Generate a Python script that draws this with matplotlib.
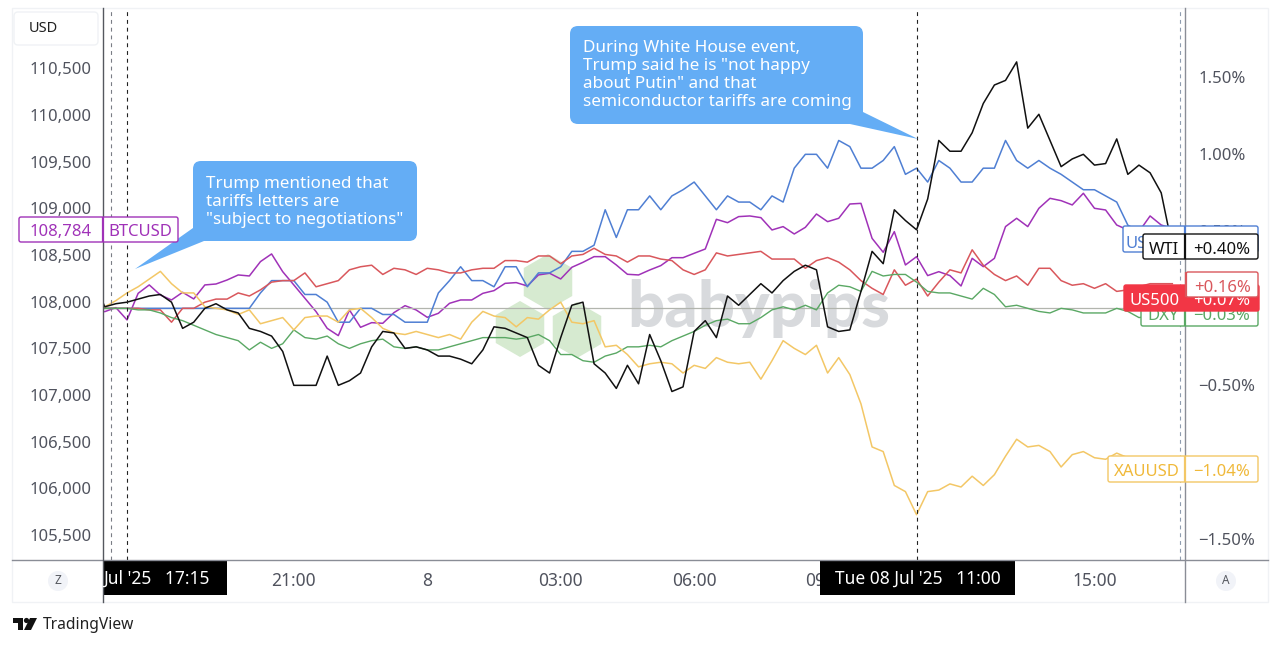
import numpy as np
import matplotlib
matplotlib.use("Agg")
import matplotlib.pyplot as plt
from matplotlib.patches import FancyBboxPatch, Polygon, Rectangle, RegularPolygon, Circle

plt.rcParams['font.family'] = ['Noto Sans', 'DejaVu Sans']

W, H = 1280, 647

# 15 minute bars, bar 0 is Jul 7 17:15
bars = np.arange(-3, 95)

btcusd = [107910, 107893, 107936, 107804, 108089, 108179, 108071, 108018, 108100, 108029,
          108179, 108189, 108232, 108286, 108275, 108429, 108511, 108321, 108179, 108036,
          107893, 107714, 107636, 107911, 107725, 107775, 107768, 107882, 107957, 107911,
          107832, 107875, 107982, 108018, 108018, 108089, 108118, 108196, 108204, 108168,
          108286, 108304, 108243, 108368, 108421, 108482, 108482, 108393, 108293, 108286,
          108339, 108386, 108471, 108471, 108518, 108564, 108882, 108846, 108911, 108918,
          108900, 108768, 108804, 108725, 108796, 108939, 108857, 108893, 109046, 109053,
          108678, 108529, 108750, 108393, 108482, 108279, 108321, 108279, 108168, 108464,
          108375, 108464, 108804, 108893, 108804, 109000, 109107, 109082, 109036, 109161,
          109000, 108982, 108821, 108768, 108750, 108918, 108821, 108784]

wti = [0.18, 0.01, 0.03, 0.04, 0.06, 0.08, 0.09, 0.04, -0.13, -0.09,
       0.00, 0.03, -0.01, -0.03, -0.13, -0.15, -0.18, -0.28, -0.50, -0.50,
       -0.50, -0.31, -0.50, -0.47, -0.42, -0.25, -0.15, -0.16, -0.26, -0.25,
       -0.27, -0.31, -0.31, -0.33, -0.36, -0.27, -0.12, -0.13, -0.16, -0.19,
       -0.37, -0.42, -0.19, 0.02, 0.04, -0.36, -0.42, -0.52, -0.37, -0.49,
       -0.17, -0.34, -0.54, -0.51, -0.15, -0.08, -0.19, 0.08, 0.02, 0.09,
       0.16, 0.10, 0.18, 0.24, 0.28, 0.25, -0.12, -0.15, -0.14, 0.11,
       0.37, 0.29, 0.64, 0.57, 0.51, 0.71, 1.09, 1.02, 1.02, 1.14,
       1.33, 1.45, 1.48, 1.60, 1.17, 1.26, 1.09, 0.92, 0.97, 1.00,
       0.93, 0.94, 1.10, 0.87, 0.93, 0.88, 0.75, 0.40]

usdjpy = [0.00, 0.00, 0.00, 0.00, 0.00, 0.00, 0.00, 0.00, 0.00, 0.00,
          0.00, 0.00, 0.00, 0.00, 0.00, 0.10, 0.18, 0.18, 0.18, 0.09,
          0.09, 0.04, -0.09, -0.09, 0.00, 0.00, -0.04, -0.04, -0.09, -0.09,
          -0.09, 0.10, 0.18, 0.27, 0.18, 0.18, 0.14, 0.27, 0.27, 0.14,
          0.23, 0.23, 0.27, 0.37, 0.37, 0.41, 0.64, 0.46, 0.64, 0.64,
          0.73, 0.64, 0.73, 0.77, 0.82, 0.73, 0.64, 0.73, 0.69, 0.69,
          0.64, 0.73, 0.69, 0.91, 1.00, 1.00, 0.91, 1.09, 1.05, 0.91,
          0.91, 0.96, 1.05, 0.87, 0.91, 0.82, 0.96, 0.91, 0.82, 0.82,
          0.91, 0.91, 1.09, 0.96, 0.91, 0.96, 0.91, 0.87, 0.82, 0.77,
          0.77, 0.73, 0.69, 0.54, 0.50, 0.48, 0.45, 0.45]

red_series = [0.00, 0.00, 0.00, 0.00, 0.00, -0.01, -0.01, -0.09, 0.00, 0.00,
              0.04, 0.06, 0.06, 0.10, 0.08, 0.12, 0.17, 0.18, 0.18, 0.23,
              0.14, 0.16, 0.18, 0.25, 0.27, 0.28, 0.22, 0.26, 0.25, 0.22,
              0.26, 0.25, 0.23, 0.23, 0.25, 0.26, 0.26, 0.31, 0.31, 0.30,
              0.34, 0.34, 0.29, 0.34, 0.35, 0.39, 0.35, 0.34, 0.30, 0.34,
              0.34, 0.32, 0.31, 0.25, 0.22, 0.25, 0.36, 0.34, 0.35, 0.36,
              0.37, 0.32, 0.32, 0.32, 0.26, 0.31, 0.33, 0.30, 0.25, 0.18,
              0.13, 0.09, 0.25, 0.15, 0.19, 0.08, 0.17, 0.25, 0.23, 0.38,
              0.28, 0.22, 0.18, 0.21, 0.15, 0.26, 0.26, 0.18, 0.15, 0.16,
              0.13, 0.16, 0.11, 0.12, 0.14, 0.16, 0.16, 0.16]

dxy = [0.00, 0.00, 0.00, 0.00, -0.01, -0.01, -0.03, -0.06, -0.08, -0.11,
       -0.14, -0.17, -0.19, -0.21, -0.27, -0.22, -0.26, -0.23, -0.14, -0.19,
       -0.20, -0.18, -0.23, -0.26, -0.23, -0.21, -0.20, -0.25, -0.26, -0.25,
       -0.27, -0.27, -0.25, -0.23, -0.21, -0.19, -0.19, -0.19, -0.20, -0.19,
       -0.17, -0.21, -0.30, -0.30, -0.34, -0.35, -0.31, -0.29, -0.25, -0.25,
       -0.24, -0.25, -0.21, -0.18, -0.15, -0.11, -0.08, -0.07, -0.10, -0.10,
       -0.06, -0.01, 0.01, -0.01, 0.02, -0.01, 0.10, 0.15, 0.14, 0.11,
       0.24, 0.21, 0.22, 0.22, 0.17, 0.11, 0.10, 0.10, 0.08, 0.06,
       0.13, 0.09, 0.01, 0.02, 0.00, -0.02, -0.03, 0.00, -0.01, -0.03,
       -0.03, -0.03, 0.00, -0.02, -0.06, -0.05, -0.04, -0.03]

xauusd = [0.00, 0.01, 0.05, 0.10, 0.14, 0.19, 0.24, 0.16, 0.10, 0.10,
          0.01, 0.00, -0.01, -0.04, -0.01, -0.10, -0.08, -0.06, -0.14, -0.06,
          -0.05, -0.05, -0.09, -0.01, 0.00, -0.06, -0.13, -0.16, -0.17, -0.15,
          -0.17, -0.19, -0.17, -0.20, -0.09, -0.02, -0.05, -0.06, -0.12, -0.06,
          -0.07, -0.01, 0.04, -0.09, -0.10, -0.08, -0.25, -0.24, -0.30, -0.38,
          -0.36, -0.35, -0.36, -0.42, -0.37, -0.39, -0.32, -0.35, -0.36, -0.35,
          -0.46, -0.34, -0.21, -0.26, -0.30, -0.24, -0.42, -0.32, -0.43, -0.62,
          -0.90, -0.93, -1.15, -1.19, -1.34, -1.19, -1.18, -1.14, -1.16, -1.09,
          -1.15, -1.08, -0.96, -0.85, -0.90, -0.89, -0.93, -1.03, -0.95, -0.93,
          -0.97, -0.98, -0.94, -0.97, -1.02, -1.04, -1.04, -1.04]

left_ticks = [105500, 106000, 106500, 107000, 107500, 108000, 108500, 109000, 109500, 110000, 110500]
right_ticks = [-1.5, -1.0, -0.5, 0.0, 0.5, 1.0, 1.5]
right_labels = ['\u22121.50%', '\u22121.00%', '\u22120.50%', '0.00%', '0.50%', '1.00%', '1.50%']
time_ticks = [15, 27, 39, 51, 63, 75, 87]
time_labels = ['21:00', '8', '03:00', '06:00', '09:00', '12:00', '15:00']
event_bars = [0, 71]
start_bar = -1.44
last_bar = 94.7

PURPLE = '#a032b8'
BLUE = '#4f7fd3'
RED = '#d9575c'
GREEN = '#5aa864'
YELLOW = '#f3c766'
GREY = '#50535e'
CALLOUT = '#64adf5'


def pane(x0, y0, x1, y1, zorder):
    a = fig.add_axes([x0 / W, 1 - y1 / H, (x1 - x0) / W, (y1 - y0) / H], zorder=zorder)
    a.patch.set_alpha(0)
    return a


def label(x0, x1, y0, y1, split, left, right, edge, z, fill='white', color=None, dy=1.0):
    # price tag with two cells, drawn in picture pixels, higher z covers lower tags
    color = color or edge
    top.add_patch(FancyBboxPatch((x0, y0), x1 - x0, y1 - y0, boxstyle='round,pad=0,rounding_size=2',
                                 fc=fill, ec=edge, lw=1, zorder=z))
    top.plot([split, split], [y0, y1], color=edge, lw=1.6, solid_capstyle='butt', zorder=z)
    ym = (y0 + y1) / 2 + dy
    top.text((x0 + split) / 2, ym, left, color=color, fontsize=12, ha='center', va='center_baseline', zorder=z)
    top.text(split + 65, ym, right, color=color, fontsize=12, ha='right', va='center_baseline', zorder=z)


fig = plt.figure(figsize=(W / 100, H / 100), dpi=100, facecolor='white')

# background: frame and watermark
bg = pane(0, 0, W, H, 0)
bg.set_xlim(0, W)
bg.set_ylim(H, 0)
bg.axis('off')
bg.add_patch(Rectangle((12, 8), 1256, 594, fc='white', ec='#f0f2f5', lw=1))
for cx, cy in [(548, 282), (520, 329), (577, 330)]:
    bg.add_patch(RegularPolygon((cx, cy), 6, radius=28, fc='#d6ead0', ec='none'))
bg.text(759, 308, 'babypips', color='#d8dadd', fontsize=47, fontweight='black', family='Lato',
        ha='center', va='center')

# BTC on the left scale, everything else in percent on the right
ax_left = pane(103, 8, 1185, 560, 1)
ax_left.set_xlim(-2.16, 95.14)
ax_left.set_ylim(105232, 111146)
ax_left.plot(bars, btcusd, color=PURPLE, lw=1.1)
ax_left.set_yticks(left_ticks)
ax_left.set_yticklabels([f'{v:,}' for v in left_ticks])
ax_left.tick_params(axis='y', length=0, pad=8.5, labelsize=12, labelcolor=GREY)
ax_left.set_xticks(time_ticks)
ax_left.set_xticklabels(time_labels)
ax_left.tick_params(axis='x', length=0, pad=8.5, labelsize=12.5, labelcolor=GREY)

ax_right = pane(103, 8, 1185, 560, 2)
ax_right.set_xlim(-2.16, 95.14)
ax_right.set_ylim(-1.634, 1.95)
ax_right.axhline(0, color='#b2b5ae', lw=0.9)
ax_right.plot(bars, usdjpy, color=BLUE, lw=1.1)
ax_right.plot(bars, red_series, color=RED, lw=1.1)
ax_right.plot(bars, dxy, color=GREEN, lw=1.0)
ax_right.plot(bars, xauusd, color=YELLOW, lw=1.1)
ax_right.plot(bars, wti, color='#111111', lw=1.1)
for b in event_bars:
    ax_right.axvline(b, color='#222222', lw=0.8, ls=(0, (3.5, 3.5)))
ax_right.axvline(start_bar, color='#7a7d85', lw=0.8, ls=(0, (3.5, 3.5)))
ax_right.axvline(last_bar, color='#8f9db0', lw=0.8, ls=(0, (3.5, 3.5)))
ax_right.set_xticks([])
ax_right.yaxis.tick_right()
ax_right.set_yticks(right_ticks)
ax_right.set_yticklabels(right_labels)
ax_right.tick_params(axis='y', length=0, pad=9.5, labelsize=12, labelcolor=GREY)

for a in (ax_left, ax_right):
    for s in a.spines.values():
        s.set_visible(False)

# top layer: axis lines, tags, callouts, logo
top = pane(0, 0, W, H, 3)
top.set_xlim(0, W)
top.set_ylim(H, 0)
top.axis('off')
top.plot([12, 1268], [560, 560], color='#8a8d96', lw=1)
top.plot([103, 103], [8, 602], color='#55585f', lw=1)
top.plot([1185, 1185], [8, 602], color='#8a8d96', lw=1)

top.add_patch(FancyBboxPatch((14, 12), 84, 33, boxstyle='round,pad=0,rounding_size=4', fc='white', ec='#f0f2f5', lw=1))
top.text(43.5, 29, 'USD', color='#222222', fontsize=10.5, ha='center', va='center')

top.add_patch(Circle((58, 581), 10, fc='#f1f3f8', ec='none'))
top.text(58, 581, 'Z', color='#55585f', fontsize=8.5, ha='center', va='center')
top.add_patch(Circle((1226, 581), 10, fc='#f1f3f8', ec='none'))
top.text(1226, 581, 'A', color='#55585f', fontsize=8.5, ha='center', va='center')

top.add_patch(Rectangle((103, 561), 124, 34, fc='black', ec='none'))
top.text(103, 579, "Jul '25   17:15", color='white', fontsize=12.5, ha='left', va='center')
top.add_patch(Rectangle((820, 561), 195, 34, fc='black', ec='none'))
top.text(917.5, 579, "Tue 08 Jul '25   11:00", color='white', fontsize=12.5, ha='center', va='center')

label(19, 178, 217, 242, 103, '108,784', '', PURPLE, 5)
top.text(140.5, 230.5, 'BTCUSD', color=PURPLE, fontsize=12, ha='center', va='center_baseline', zorder=5)

label(1123, 1258, 226, 252, 1185, 'USDJPY', '+0.45%', BLUE, 5, dy=2.5)
label(1143, 1258, 234, 259, 1185, 'WTI', '+0.40%', '#111111', 6)
label(1141, 1258, 301, 326, 1185, 'DXY', '\u22120.03%', GREEN, 5)
label(1124, 1259, 285, 311, 1185, 'US500', '+0.07%', '#f23645', 6, fill='#f23645', color='white')
label(1186, 1258, 272, 297, 1186, '', '+0.16%', RED, 7)
label(1108, 1258, 456, 482, 1185, 'XAUUSD', '\u22121.04%', YELLOW, 5, color='#f0b93a')

# callouts
top.add_patch(FancyBboxPatch((193, 161), 224, 80, boxstyle='round,pad=0,rounding_size=8', fc=CALLOUT, ec='none'))
top.add_patch(Polygon([(193, 228), (135, 269), (204, 241)], fc=CALLOUT, ec='none'))
for y, s in zip([183.5, 201.5, 219.5], ['Trump mentioned that', 'tariffs letters are', '"subject to negotiations"']):
    top.text(206, y, s, color='white', fontsize=12.25, ha='left', va='center')

top.add_patch(FancyBboxPatch((570, 26), 293, 98, boxstyle='round,pad=0,rounding_size=8', fc=CALLOUT, ec='none'))
top.add_patch(Polygon([(863, 112), (918, 139), (850, 124)], fc=CALLOUT, ec='none'))
for y, s in zip([48.5, 66.5, 84.5, 102.5], ['During White House event,', 'Trump said he is "not happy',
                                            'about Putin" and that', 'semiconductor tariffs are coming']):
    top.text(583, y, s, color='white', fontsize=12.3, ha='left', va='center')

# TradingView logo
top.add_patch(Polygon([(13, 618), (23, 618), (23, 630), (18, 630), (18, 623), (13, 623)], fc='#111111', ec='none'))
top.add_patch(Circle((26.5, 620.5), 2.6, fc='#111111', ec='none'))
top.add_patch(Polygon([(30, 618), (37, 618), (31, 630), (24, 630)], fc='#111111', ec='none'))
top.text(43, 625, 'TradingView', color='#222222', fontsize=11.2, ha='left', va='center')

fig.savefig('out.png', dpi=100)
